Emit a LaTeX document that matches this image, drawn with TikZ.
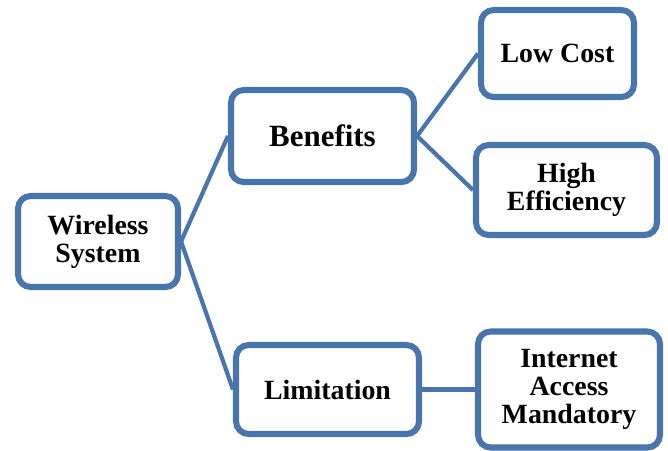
\documentclass[tikz,border=0pt]{standalone}
\usepackage{fontspec}
\setmainfont{Liberation Serif}
\usetikzlibrary{shadows}
\definecolor{boxblue}{RGB}{72,117,172}

\begin{document}
\begin{tikzpicture}[-,thick,x=0.025cm,y=-0.025cm,
  main node/.style={rectangle,rounded corners=9pt,draw=boxblue,line width=4.3pt,fill=white,
    align=center,inner sep=0pt,font=\fontsize{19.8}{20}\selectfont\bfseries,
    drop shadow={shadow xshift=1.5pt,shadow yshift=-2pt,opacity=0.3}},
  link/.style={draw=boxblue,line width=3pt}]
  \useasboundingbox (0,0) rectangle (668,450);
  \node[main node,minimum width=160*0.025cm,minimum height=91*0.025cm] (ws) at (98,241.5) {Wireless\\System};
  \node[main node,minimum width=183*0.025cm,minimum height=92*0.025cm,font=\fontsize{22}{22}\selectfont\bfseries] (ben) at (322.5,136) {Benefits};
  \node[main node,minimum width=183*0.025cm,minimum height=89*0.025cm] (lim) at (327.5,389.5) {Limitation};
  \node[main node,minimum width=153*0.025cm,minimum height=87*0.025cm] (cost) at (557.5,53.5) {Low Cost};
  \node[main node,minimum width=181*0.025cm,minimum height=90*0.025cm] (eff) at (566.5,190) {High\\Efficiency};
  \node[main node,minimum width=182*0.025cm,minimum height=116*0.025cm] (net) at (569,389.5) {Internet\\Access\\Mandatory};
  \path[link]
    (ws.east) edge (ben.west)
    (ws.east) edge (lim.west)
    (ben.east) edge (cost.west)
    (ben.east) edge (eff.west)
    (lim.east) edge (net.west);
  \end{tikzpicture}
\end{document}
